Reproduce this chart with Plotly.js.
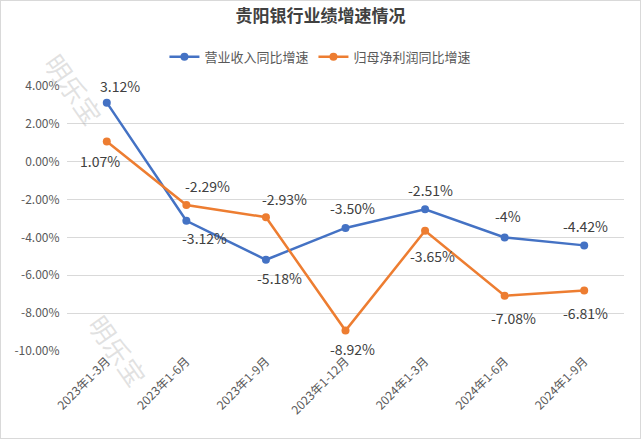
<!DOCTYPE html>
<html><head><meta charset="utf-8">
<script src="https://cdn.plot.ly/plotly-3.0.1.min.js"></script>
<style>html,body{margin:0;padding:0;background:#fff}#c{width:641px;height:439px;box-sizing:border-box;border:1px solid #d9d9d9;}</style>
</head><body><div id="c"></div>
<script>
const categories = ["2023年1-3月","2023年1-6月","2023年1-9月","2023年1-12月","2024年1-3月","2024年1-6月","2024年1-9月"];
const revenueGrowth = [3.12,-3.12,-5.18,-3.50,-2.51,-4,-4.42];
const revenueLabels = ["3.12%","-3.12%","-5.18%","-3.50%","-2.51%","-4%","-4.42%"];
const profitGrowth = [1.07,-2.29,-2.93,-8.92,-3.65,-7.08,-6.81];
const profitLabels = ["1.07%","-2.29%","-2.93%","-8.92%","-3.65%","-7.08%","-6.81%"];
const yTicks = [4,2,0,-2,-4,-6,-8,-10];
const yTickText = ["4.00%","2.00%","0.00%","-2.00%","-4.00%","-6.00%","-8.00%","-10.00%"];

const blue = "#4472C4", orange = "#ED7D31";
// label offsets (style)
const revOff = [[13,17],[18,-17],[14,-18],[7,20],[5,19],[3,21],[1,19]];
const proOff = [[-7,-20],[21,19],[19,18],[7,-18],[7,-25],[9,-22],[1,-22]];

const annotations = [];
categories.forEach((c,i)=>{
  annotations.push({x:c,y:revenueGrowth[i],text:revenueLabels[i],showarrow:false,xshift:revOff[i][0],yshift:revOff[i][1],font:{size:14,color:"#404040"}});
  annotations.push({x:c,y:profitGrowth[i],text:profitLabels[i],showarrow:false,xshift:proOff[i][0],yshift:proOff[i][1],font:{size:14,color:"#404040"}});
});
annotations.push({xref:"paper",yref:"paper",x:-0.06,y:1.16,text:"明乐宝",showarrow:false,textangle:55,font:{size:26,color:"rgba(170,170,170,0.35)"}});
annotations.push({xref:"paper",yref:"paper",x:0.02,y:-0.17,text:"明乐宝",showarrow:false,textangle:55,font:{size:26,color:"rgba(170,170,170,0.35)"}});

const traces = [
  {x:categories,y:revenueGrowth,name:"营业收入同比增速",type:"scatter",mode:"lines+markers",line:{color:blue,width:2.5},marker:{color:blue,size:8}},
  {x:categories,y:profitGrowth,name:"归母净利润同比增速",type:"scatter",mode:"lines+markers",line:{color:orange,width:2.5},marker:{color:orange,size:8}}
];
const layout = {
  width:639,height:437,
  margin:{l:66,r:16,t:85,b:87},
  paper_bgcolor:"#fff",plot_bgcolor:"#fff",
  font:{family:"'Noto Sans CJK SC', 'Liberation Sans', sans-serif",color:"#595959"},
  title:{text:"<b>贵阳银行业绩增速情况</b>",x:0.5,xanchor:"center",y:0.965,yanchor:"middle",font:{size:17,color:"#404040"}},
  showlegend:true,
  legend:{orientation:"h",x:0.455,xanchor:"center",y:1.11,yanchor:"middle",font:{size:13,color:"#595959"},itemwidth:30},
  xaxis:{type:"category",tickangle:-45,tickfont:{size:12,color:"#595959"},showgrid:false,showline:false,ticks:"",zeroline:false,range:[-0.5,6.5]},
  yaxis:{range:[-10,4],tickvals:yTicks,ticktext:yTickText,tickfont:{size:12,color:"#595959"},showgrid:true,gridcolor:"#d9d9d9",gridwidth:1,zeroline:false,showline:false,ticks:"outside",ticklen:4,tickcolor:"rgba(0,0,0,0)"},
  annotations:annotations
};
Plotly.newPlot("c",traces,layout,{displayModeBar:false,staticPlot:true});
</script></body></html>
